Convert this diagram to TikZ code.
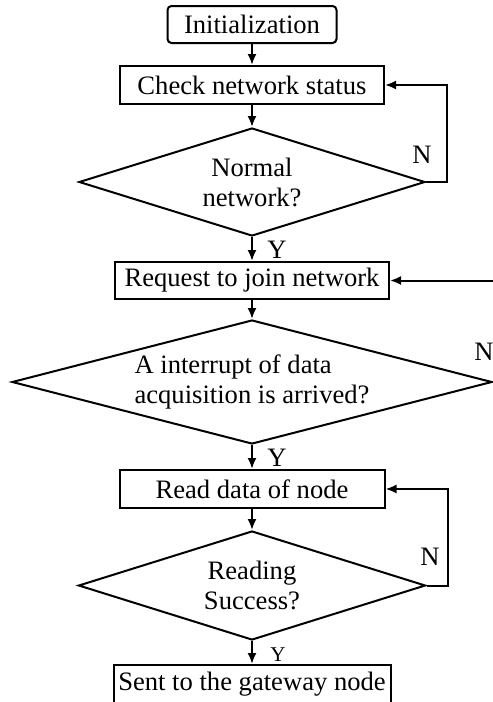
\documentclass[tikz,border=0pt]{standalone}
\usepackage{fontspec}
\setmainfont{Liberation Serif}
\usepackage{tikz}
\usetikzlibrary{shapes.geometric, arrows.meta}
\tikzstyle{arrow} = [
    line width=1pt,
    -{Latex[length=5.5pt,width=4.5pt]}
]
\tikzstyle{process} = [
    draw, line width=1pt, rectangle, inner sep=0pt,
    font=\fontsize{13.3}{15}\selectfont
]
\tikzstyle{decision} = [
    draw, line width=1pt, diamond, inner sep=0pt,
    font=\fontsize{13.3}{15}\selectfont
]
\tikzstyle{answer} = [font=\fontsize{13.3}{15}\selectfont]

\begin{document}
\begin{tikzpicture}[x=0.5pt, y=-0.5pt]
    \useasboundingbox (0,0) rectangle (493,702);
    \clip (0,0) rectangle (493,702);
    % Boxes
    \node[process, rounded corners=2pt, minimum width=84.5pt, minimum height=18.5pt] (init) at (252,24.5) {Initialization};
    \node[process, minimum width=132pt, minimum height=19pt] (check) at (252,85) {Check network status};
    \node[decision, shape aspect=3.2, minimum width=173pt, minimum height=54pt, align=center] (normal) at (252,182) {Normal\\network?};
    \node[process, minimum width=137pt, minimum height=18.5pt] (join) at (252,280.5) {Request to join network};
    \node[decision, shape aspect=3.87, minimum width=240pt, minimum height=62pt, align=left] (intr) at (252,382) {A interrupt of data\\acquisition is arrived?};
    \node[process, minimum width=132.5pt, minimum height=19pt] (read) at (252,489) {Read data of node};
    \node[decision, shape aspect=3.18, minimum width=173.5pt, minimum height=54.5pt, align=center] (success) at (252,585.5) {Reading\\Success?};
    \node[process, minimum width=138.5pt, minimum height=19pt] (sent) at (252,684) {Sent to the gateway node};
    % Main flow
    \draw[arrow] (init) -- (check);
    \draw[arrow] (check) -- (normal);
    \draw[arrow] (normal) -- (join);
    \draw[arrow] (join) -- (intr);
    \draw[arrow] (intr) -- (read);
    \draw[arrow] (read) -- (success);
    \draw[arrow] (success) -- (sent);
    % Loops back
    \draw[arrow] (normal.east) -- ++(21,0) |- (check.east);
    \draw[arrow] (intr.east) -- ++(30,0) |- (join.east);
    \draw[arrow] (success.east) -- ++(21,0) |- (read.east);
    % Labels
    \node[answer] (n1) at (422,155) {N};
    \node[answer] (n2) at (484,352) {N};
    \node[answer] (n3) at (430,557) {N};
    \node[answer] (y1) at (277,250) {Y};
    \node[answer] (y2) at (277,458) {Y};
    \node[font=\fontsize{10.5}{12}\selectfont] (y3) at (278,655) {Y};
\end{tikzpicture}
\end{document}
